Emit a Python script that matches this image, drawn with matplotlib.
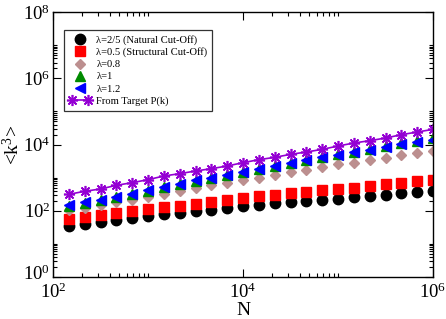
import matplotlib

matplotlib.use("Agg")
import matplotlib.pyplot as plt
from matplotlib.legend_handler import HandlerLine2D
from matplotlib.ticker import FixedLocator, NullFormatter
from matplotlib.transforms import ScaledTranslation

plt.rcParams["font.family"] = "Liberation Serif"
plt.rcParams["mathtext.fontset"] = "custom"
plt.rcParams["mathtext.rm"] = "Liberation Serif"
plt.rcParams["mathtext.it"] = "Liberation Serif:italic"

N = [147, 215, 316, 464, 681, 1000, 1468, 2154, 3162, 4642, 6813, 10000,
     14678, 21544, 31623, 46416, 68129, 100000, 146780, 215443, 316228,
     464159, 681292, 1000000]

k3_natural = [34.7, 40.8, 46.8, 53.8, 60.4, 67.8, 78, 87.5, 98, 108, 124, 139,
              153, 171, 188, 201, 216, 232, 254, 279, 306, 336, 368, 404]
k3_structural = [55, 63, 73, 85, 98, 113, 130, 142, 164, 188, 206, 237,
                 272, 306, 344, 368, 413, 454, 497, 559, 627, 704, 773, 867]
k3_08 = [103, 121, 146, 184, 216, 260, 328, 404, 497, 585, 704, 828,
         997, 1172, 1479, 1738, 2094, 2519, 2830, 3327, 3911, 4710, 5540, 6220]
k3_1 = [140, 172, 208, 252, 318, 400, 505, 640, 810, 960, 1210, 1470,
        1780, 2260, 2800, 3480, 4230, 5000, 6080, 7400, 9000, 11000, 13200, 15500]
k3_12 = [146, 180, 216, 260, 328, 413, 521, 657, 828, 975, 1228, 1479,
         1779, 2244, 2765, 3405, 4100, 4820, 5800, 6980, 8410, 10120, 11900, 13360]
k3_target = [313, 386, 454, 585, 704, 867, 1119, 1316, 1585, 1862, 2244, 2830,
             3483, 4100, 5047, 5940, 7145, 9010, 11100, 13060, 15710, 19810, 23850, 28700]

fig = plt.figure(figsize=(4.46, 3.19), dpi=100)
ax = fig.add_axes([0.119, 0.132, 0.852, 0.830])

ax.plot(N, k3_natural, "o", color="black", ms=7.5, mec="black",
        label="\u03bb=2/5 (Natural Cut-Off)")
ax.plot(N, k3_structural, "s", color="red", ms=6.5, mec="red",
        label="\u03bb=0.5 (Structural Cut-Off)")
ax.plot(N, k3_08, "D", color="#bc8f8f", ms=5.5, mec="#bc8f8f", label="\u03bb=0.8")
ax.plot(N, k3_1, "^", color="#008b00", ms=7.5, mec="#008b00", label="\u03bb=1")
ax.plot(N, k3_12, "<", color="blue", ms=7.5, mec="blue", label="\u03bb=1.2")
target, = ax.plot(N, k3_target, "-", color="#9400d3", lw=1.2, marker=(8, 2, 0),
                  ms=8, mew=1.2, label="From Target P(k)")

ax.set_xscale("log")
ax.set_yscale("log")
ax.set_xlim(1e2, 1e6)
ax.set_ylim(1e0, 1e8)

ax.xaxis.set_major_locator(FixedLocator([1e2, 1e4, 1e6]))
ax.yaxis.set_major_locator(FixedLocator([1e0, 1e2, 1e4, 1e6, 1e8]))
ax.xaxis.set_minor_locator(FixedLocator(
    [m * 10 ** e for e in (2, 4) for m in range(2, 11)]))
ax.yaxis.set_minor_locator(FixedLocator(
    [m * 10 ** e for e in (0, 2, 4, 6) for m in range(2, 11)]))
ax.xaxis.set_minor_formatter(NullFormatter())
ax.yaxis.set_minor_formatter(NullFormatter())
ax.set_xticklabels([r"$10^{2}$", r"$10^{4}$", r"$10^{6}$"])
ax.set_yticklabels([r"$10^{0}$", r"$10^{2}$", r"$10^{4}$", r"$10^{6}$", r"$10^{8}$"])

ax.tick_params(which="both", direction="in", top=True, right=True,
               labelsize=13.5, width=0.8)
ax.tick_params(axis="x", which="major", pad=4)
ax.tick_params(axis="y", which="major", pad=2)
ax.tick_params(which="major", length=6)
ax.tick_params(which="minor", length=3)
for s in ax.spines.values():
    s.set_linewidth(1.0)

# nudge the bottom y label up a little so it clears the 10^2 below it
lab0 = ax.yaxis.get_major_ticks()[0].label1
lab0.set_transform(lab0.get_transform()
                   + ScaledTranslation(0, 3 / 72, fig.dpi_scale_trans))

ax.set_xlabel("N", fontsize=14, labelpad=0)
ax.set_ylabel("<k$^{3}$>", fontsize=14, labelpad=0)

leg = ax.legend(loc="upper left", bbox_to_anchor=(0.029, 0.932), borderaxespad=0,
                fontsize=7.6, frameon=True, fancybox=False, edgecolor="black",
                numpoints=1, handlelength=2.1, handletextpad=0.5,
                labelspacing=0.25, borderpad=0.45,
                handler_map={target: HandlerLine2D(numpoints=2)})
leg.get_frame().set_linewidth(0.9)

fig.savefig("out.png")
